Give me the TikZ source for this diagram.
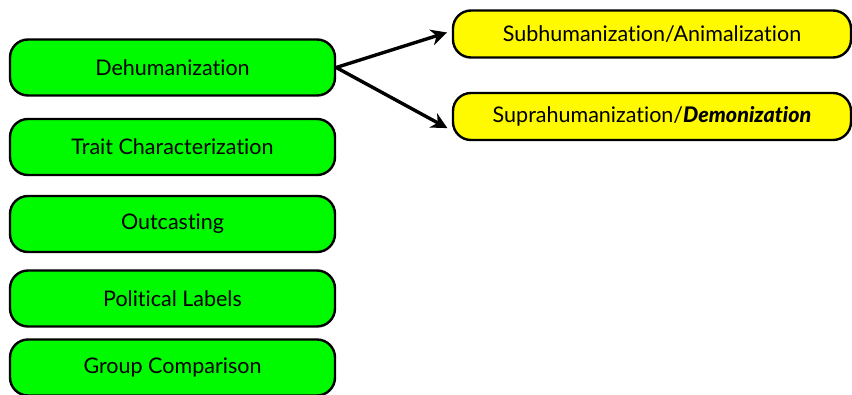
\documentclass[tikz,border=0pt]{standalone}
\usepackage{fontspec}
\setmainfont{Lato}[Ligatures=NoCommon]
\newfontface\demonface{Lato Black Italic}[Ligatures=NoCommon]
\usetikzlibrary{arrows.meta}

\tikzset{
  greenbox/.style={draw=black, line width=2.4pt, rounded corners=18pt, fill={rgb,255:red,0;green,250;blue,0},
    minimum width=325pt, minimum height=56pt, font=\fontsize{21.5}{24}\selectfont},
  yellowbox/.style={draw=black, line width=2.4pt, rounded corners=18pt, fill={rgb,255:red,255;green,250;blue,0},
    minimum width=398pt, minimum height=47pt, font=\fontsize{21.5}{24}\selectfont},
  branch/.style={-{Stealth[length=16pt, width=16pt, inset=5pt]}, line width=3.4pt, shorten >=5pt}
}

\begin{document}
\begin{tikzpicture}[x=1pt, y=-1pt]
    \useasboundingbox (0,0) rectangle (852,394);

    \node[greenbox] (dehum) at (172.5,67.5) {Dehumanization};
    \node[greenbox] (trait) at (172.5,147) {Trait Characterization};
    \node[greenbox] (outc) at (172.5,224) {Outcasting};
    \node[greenbox] (polit) at (172.5,298.5) {Political Labels};
    \node[greenbox] (group) at (172.5,367.5) {Group Comparison};

    \node[yellowbox] (subh) at (652,34) {Subhumanization/Animalization};
    \node[yellowbox] (supra) at (652,116.5) {Suprahumanization/{\demonface Demonization}};

    \draw[branch] (dehum.east) -- ([yshift=3pt]subh.west);
    \draw[branch] (dehum.east) -- ([yshift=-14pt]supra.west);
\end{tikzpicture}
\end{document}
